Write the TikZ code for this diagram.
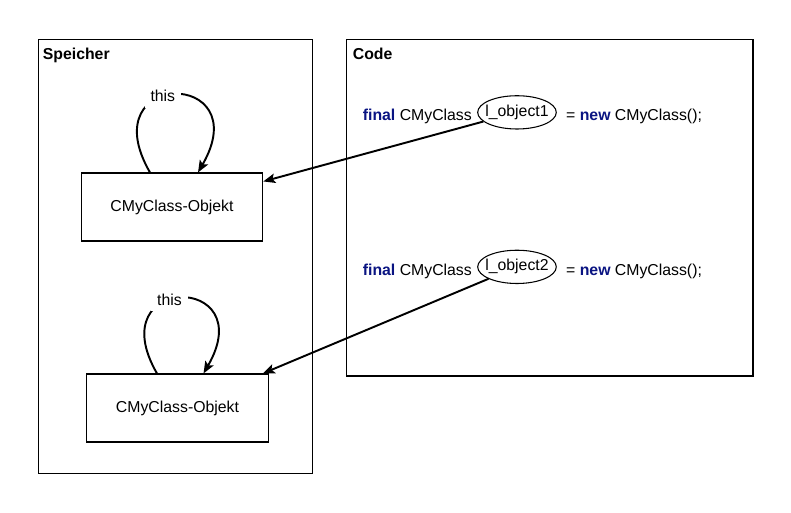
\documentclass[tikz,border=0pt]{standalone}
\usepackage{fontspec}
\setmainfont{Liberation Sans}
\usepackage{tikz}
\usetikzlibrary{arrows.meta, positioning, shapes.geometric}
\usepackage{xcolor}
\definecolor{codeblue}{RGB}{10,20,130}
\newcommand{\kw}[1]{\textbf{\textcolor{codeblue}{#1}}}

\begin{document}
\begin{tikzpicture}[>={Stealth[length=2.4mm, width=1.9mm, inset=0.5mm]},
  font=\fontsize{9}{11}\selectfont,
  frame/.style={draw, line width=0.6pt},
  objbox/.style={draw, line width=0.6pt, minimum width=3.63cm,
    minimum height=1.36cm, inner sep=0pt},
  codetxt/.style={inner sep=0pt},
  varell/.style={draw, ellipse, line width=0.6pt, inner xsep=-2.2pt,
    inner ysep=2.5pt, minimum height=0.64cm},
  ref/.style={->, line width=1.1pt}]
  \useasboundingbox (0,0) rectangle (15.82,10.24);

  % Memory frame
  \draw[frame] (0.77,9.45) rectangle (6.25,0.77);
  \node[anchor=north west, inner sep=0pt, font=\fontsize{9}{11}\selectfont\bfseries]
    (memlbl) at (0.85,9.28) {Speicher};

  % Code frame
  \draw[frame] (6.93,9.45) rectangle (15.06,2.72);
  \node[anchor=north west, inner sep=0pt, font=\fontsize{9}{11}\selectfont\bfseries]
    (codelbl) at (7.05,9.28) {Code};

  % Objects in memory
  \node[objbox] (obj1) at (3.44,6.10) {CMyClass-Objekt};
  \node[objbox] (obj2) at (3.55,2.08) {CMyClass-Objekt};

  % Self references
  \draw[ref] ([xshift=-0.44cm]obj1.north) to[out=120, in=60, looseness=6.4]
    node[pos=0.43, fill=white] (this1) {this} ([xshift=0.52cm]obj1.north);
  \draw[ref] ([xshift=-0.41cm]obj2.north) to[out=120, in=60, looseness=6.4]
    node[pos=0.43, fill=white] (this2) {this} ([xshift=0.52cm]obj2.north);

  % Declarations
  \node[codetxt, anchor=base west] (decl1) at (7.25,7.83) {\kw{final} CMyClass};
  \node[varell, right=0.1cm of decl1, yshift=2.3pt] (var1) {l\_object1};
  \node[codetxt, right=0.18cm of var1, yshift=-2.3pt] (init1) {= \kw{new} CMyClass();};

  \node[codetxt, anchor=base west] (decl2) at (7.25,4.74) {\kw{final} CMyClass};
  \node[varell, right=0.1cm of decl2, yshift=2.3pt] (var2) {l\_object2};
  \node[codetxt, right=0.18cm of var2, yshift=-2.3pt] (init2) {= \kw{new} CMyClass();};

  % References
  \draw[ref] (var1) -- ([yshift=-0.18cm]obj1.north east);
  \draw[ref] (var2) -- ([xshift=-0.12cm]obj2.north east);
\end{tikzpicture}
\end{document}
